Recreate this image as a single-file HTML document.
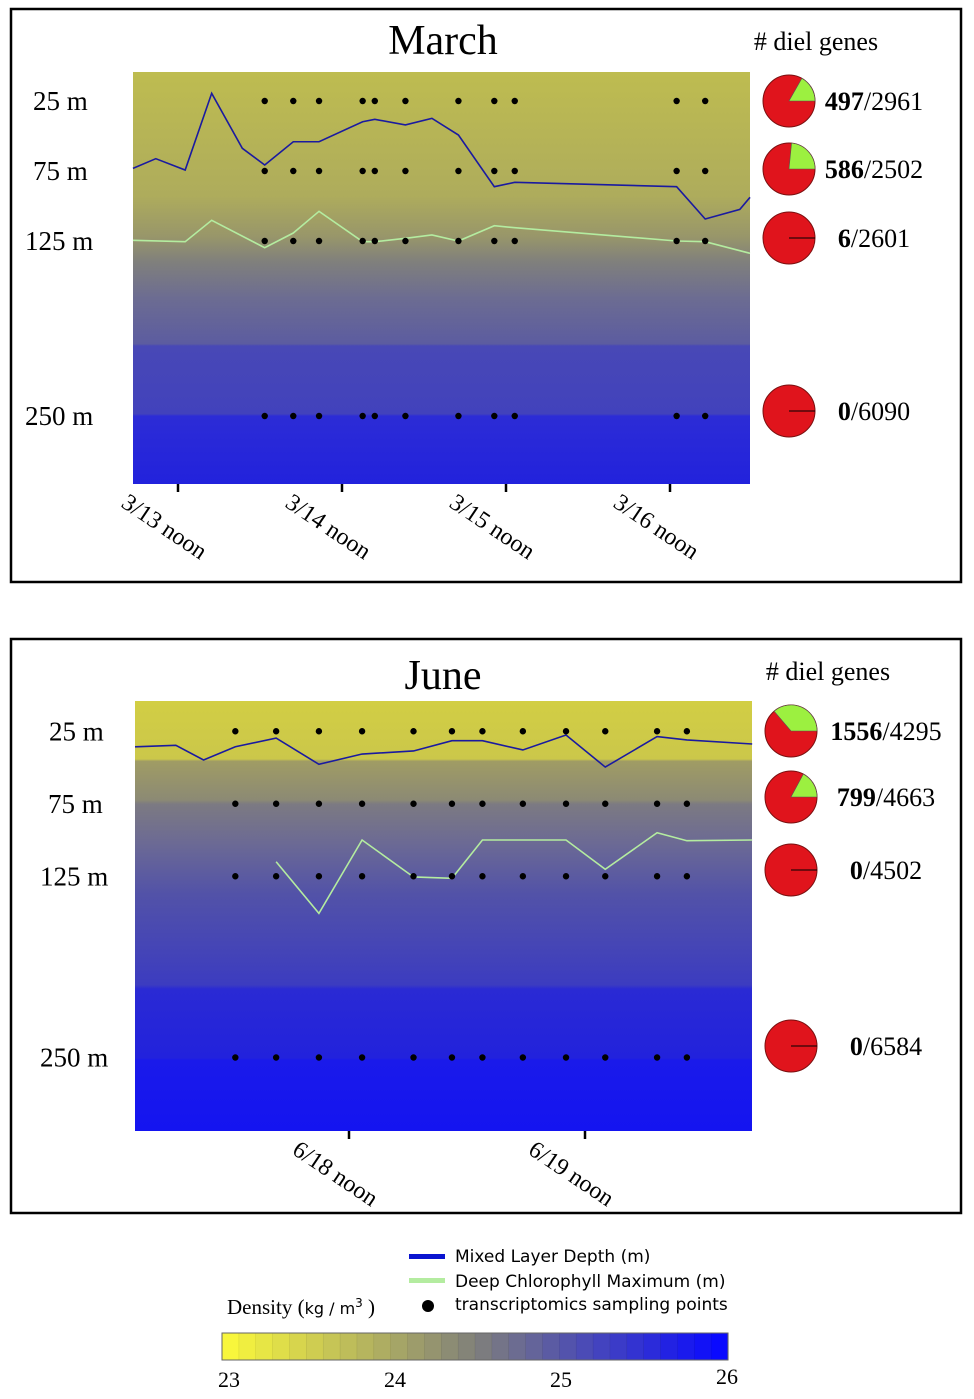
<!DOCTYPE html>
<html><head><meta charset="utf-8"><style>
body{margin:0;background:#fff;width:974px;height:1399px;overflow:hidden}
svg{display:block}
text{font-family:"Liberation Serif",serif}
.sans{font-family:"DejaVu Sans","Liberation Sans",sans-serif}
</style></head><body>
<svg id="fig" width="974" height="1399" viewBox="0 0 974 1399" xmlns="http://www.w3.org/2000/svg">
<defs>
<linearGradient id="gm" x1="0" y1="72" x2="0" y2="484" gradientUnits="userSpaceOnUse">
<stop offset="0" stop-color="#bebc50"/><stop offset="0.3" stop-color="#aeac5c"/><stop offset="0.4" stop-color="#98966a"/><stop offset="0.46" stop-color="#80807c"/><stop offset="0.55" stop-color="#6c6c92"/><stop offset="0.66" stop-color="#5c5ca0"/><stop offset="0.665" stop-color="#4848b6"/><stop offset="0.83" stop-color="#4242bc"/><stop offset="0.835" stop-color="#2c2cd6"/><stop offset="1" stop-color="#2222dc"/>
</linearGradient>
<linearGradient id="gj" x1="0" y1="701" x2="0" y2="1131" gradientUnits="userSpaceOnUse">
<stop offset="0" stop-color="#d2ce44"/><stop offset="0.135" stop-color="#cbc74a"/><stop offset="0.14" stop-color="#a09c64"/><stop offset="0.23" stop-color="#8c8a74"/><stop offset="0.24" stop-color="#7c7a82"/><stop offset="0.33" stop-color="#6c6a94"/><stop offset="0.45" stop-color="#5252a8"/><stop offset="0.66" stop-color="#3c3cc0"/><stop offset="0.67" stop-color="#2a2ad4"/><stop offset="0.83" stop-color="#2222dc"/><stop offset="0.835" stop-color="#1a1aea"/><stop offset="1" stop-color="#1414f0"/>
</linearGradient>
</defs>
<rect x="11" y="9" width="950" height="573" fill="none" stroke="#000" stroke-width="2.5"/>
<rect x="11" y="639" width="950" height="574" fill="none" stroke="#000" stroke-width="2.5"/>
<text x="443" y="54" font-size="42" text-anchor="middle">March</text>
<text x="443" y="689" font-size="42" text-anchor="middle">June</text>
<text x="816" y="50" font-size="26" text-anchor="middle"># diel genes</text>
<text x="828" y="680" font-size="26" text-anchor="middle"># diel genes</text>
<g id="layer"></g>
<!-- legend -->
<rect x="409" y="1254" width="36" height="5" fill="#0a14d0"/>
<text class="sans" x="455" y="1262" font-size="17">Mixed Layer Depth (m)</text>
<rect x="409" y="1278" width="36" height="5" fill="#b4eca0"/>
<text class="sans" x="455" y="1287" font-size="17">Deep Chlorophyll Maximum (m)</text>
<circle cx="428" cy="1306" r="6" fill="#000"/>
<text class="sans" x="455" y="1310" font-size="17">transcriptomics sampling points</text>
<text x="227" y="1314" font-size="21">Density (<tspan class="sans" font-size="16">kg / m</tspan><tspan class="sans" font-size="12" dy="-7">3</tspan><tspan dy="7"> )</tspan></text>
<g id="cbar"></g>
</svg>
<script>
// ---- March data (hours since 3/13 00:00, depth in m) ----
const marchSampleHours = [24.69,28.87,32.64,39.02,40.80,45.28,53.04,58.29,61.28,84.97,89.15];
const sampleDepths = [25,75,125,250];
const marchMldHours = [5.41,8.75,13.05,16.93,21.41,24.69,28.87,32.64,39.02,40.80,45.28,49.16,53.04,58.29,61.28,84.97,89.15,94.22,95.71];
const marchMldDepth = [73.1,66.2,74.3,19.5,58.8,70.7,54.1,54.1,39.8,38.1,42.1,37.4,49.3,86.2,83.1,86.2,109.3,102.4,93.8];
const marchDcmHours = [5.41,13.05,16.93,24.69,28.87,32.64,39.02,40.80,45.28,49.16,53.04,58.29,61.28,84.97,89.15,95.71];
const marchDcmDepth = [124.5,125.5,110.2,129.8,119.3,103.8,125.5,125.5,123.1,120.7,125,114.1,115.5,125,125.5,133.8];
const marchTickHours = [12,36,60,84];
const marchTickLabels = ["3/13 noon","3/14 noon","3/15 noon","3/16 noon"];
const marchDiel = [497,586,6,0];
const marchTotal = [2961,2502,2601,6090];
// ---- June data (hours since 6/17 00:00) ----
const juneSampleHours = [24.44,28.59,32.94,37.33,42.56,46.47,49.57,53.68,58.07,62.06,67.33,70.36];
const juneMldHours = [14.24,18.39,21.21,24.44,28.59,32.94,37.33,42.56,46.47,49.57,53.68,58.07,62.06,67.33,70.36,77.0];
const juneMldDepth = [35.7,34.7,44.8,35.7,29.7,47.8,40.7,38.6,31.5,31.5,37.9,27.6,49.7,28.7,31,33.8];
const juneDcmHours = [28.59,32.94,37.33,42.56,46.47,49.57,58.07,62.06,67.33,70.36,77.0];
const juneDcmDepth = [115,150.6,100,125.5,126.4,100,100,120.2,95,100.5,100];
const juneTickHours = [36,60];
const juneTickLabels = ["6/18 noon","6/19 noon"];
const juneDiel = [1556,799,0,0];
const juneTotal = [4295,4663,4502,6584];
// ---- colorbar ----
const cbarTicks = [23,24,25,26];

const NS="http://www.w3.org/2000/svg";
const layer=document.getElementById('layer');
function mk(tag,attrs,parent){const e=document.createElementNS(NS,tag);for(const k in attrs)e.setAttribute(k,attrs[k]);(parent||layer).appendChild(e);return e;}

function panel(cfg){
  const xs=h=>cfg.x0+(h-cfg.h0)*cfg.pxh;
  const ys=d=>cfg.y0+d*cfg.pxm;
  const bg=mk('rect',{x:cfg.L,y:cfg.T,width:cfg.R-cfg.L,height:cfg.B-cfg.T,fill:cfg.grad});
  
  
  sampleDepths.forEach((d,i)=>{
    const t=mk('text',{x:cfg.labX[i],y:ys(d)+9,'font-size':27});
    t.textContent=d+' m';
    
    
  });
  cfg.ticks.forEach((h,i)=>{
    const x=xs(h);
    const tk=mk('line',{x1:x,x2:x,y1:cfg.B,y2:cfg.B+8,stroke:'#000','stroke-width':2.5});
    
    
    const t=mk('text',{x:x-58,y:cfg.B+22,'font-size':24,transform:`rotate(34 ${x-58} ${cfg.B+22})`});
    t.textContent=cfg.tickLabels[i];
    
    
  });
  const mld=mk('polyline',{points:cfg.mH.map((h,i)=>xs(h)+','+ys(cfg.mD[i])).join(' '),fill:'none',stroke:'#1a1aa0','stroke-width':1.6});
  
  
  const dcm=mk('polyline',{points:cfg.dH.map((h,i)=>xs(h)+','+ys(cfg.dD[i])).join(' '),fill:'none',stroke:'#b4eca0','stroke-width':1.6});
  
  
  sampleDepths.forEach(d=>cfg.sH.forEach(h=>{
    const c=mk('circle',{cx:xs(h),cy:ys(d),r:3.2,fill:'#000'});
    
    
  }));
  sampleDepths.forEach((d,i)=>{
    const cx=cfg.pieX, cy=cfg.pieY[i], r=26;
    const circ=mk('circle',{cx,cy,r,fill:'#e0141c',stroke:'#7a1010','stroke-width':1});
    
    
    const f=cfg.diel[i]/cfg.total[i];
    const a=f*2*Math.PI;
    if(f>0.005){
      const ex=cx+r*Math.cos(a), ey=cy-r*Math.sin(a);
      const w=mk('path',{d:`M${cx},${cy} L${cx+r},${cy} A${r},${r} 0 ${a>Math.PI?1:0} 0 ${ex},${ey} Z`,fill:'#9cf040',stroke:'#555','stroke-width':0.6});
      
      
    } else {
      const l=mk('line',{x1:cx,y1:cy,x2:cx+r,y2:cy,stroke:'#000','stroke-width':1});
      
      
    }
    const t=mk('text',{x:cfg.labTextX,y:cy+9,'font-size':26,'text-anchor':'middle'});
    t.innerHTML=`<tspan font-weight="bold">${cfg.diel[i]}</tspan>/${cfg.total[i]}`;
    
    
  });
}

panel({name:'march',grad:'url(#gm)',L:133,R:750,T:72,B:484,x0:178,h0:12,pxh:164/24,y0:66,pxm:1.4,
  labX:[33,33,25,25],ticks:marchTickHours,tickLabels:marchTickLabels,
  mH:marchMldHours,mD:marchMldDepth,dH:marchDcmHours,dD:marchDcmDepth,sH:marchSampleHours,
  pieX:789,pieY:[101,169,238,411],diel:marchDiel,total:marchTotal,labTextX:874});
panel({name:'june',grad:'url(#gj)',L:135,R:752,T:701,B:1131,x0:349,h0:36,pxh:236/24,y0:695,pxm:1.45,
  labX:[49,48,40,40],ticks:juneTickHours,tickLabels:juneTickLabels,
  mH:juneMldHours,mD:juneMldDepth,dH:juneDcmHours,dD:juneDcmDepth,sH:juneSampleHours,
  pieX:791,pieY:[731,797,870,1046],diel:juneDiel,total:juneTotal,labTextX:886});

const cb=document.getElementById('cbar');
const cbx=v=>229+(v-23)*(727-229)/3;
const cells=30, cL=222, cR=728;
function lerp(a,b,t){return a.map((v,i)=>Math.round(v+(b[i]-v)*t));}
for(let i=0;i<cells;i++){
  const t=i/(cells-1);
  const col=t<0.5?lerp([248,246,60],[128,128,122],t/0.5):lerp([128,128,122],[10,10,255],(t-0.5)/0.5);
  const w=(cR-cL)/cells;
  const r=mk('rect',{x:cL+i*w,y:1333,width:w+0.5,height:27,fill:`rgb(${col})`,stroke:'rgba(0,0,0,0.12)','stroke-width':0.5},cb);
  
  
}
const border=mk('rect',{x:cL,y:1333,width:cR-cL,height:27,fill:'none',stroke:'#666','stroke-width':1},cb);


cbarTicks.forEach(v=>{
  const t=mk('text',{x:cbx(v),y:v===26?1384:1387,'font-size':22,'text-anchor':'middle'},cb);
  t.textContent=v;
  
  
});
</script>
</body></html>
